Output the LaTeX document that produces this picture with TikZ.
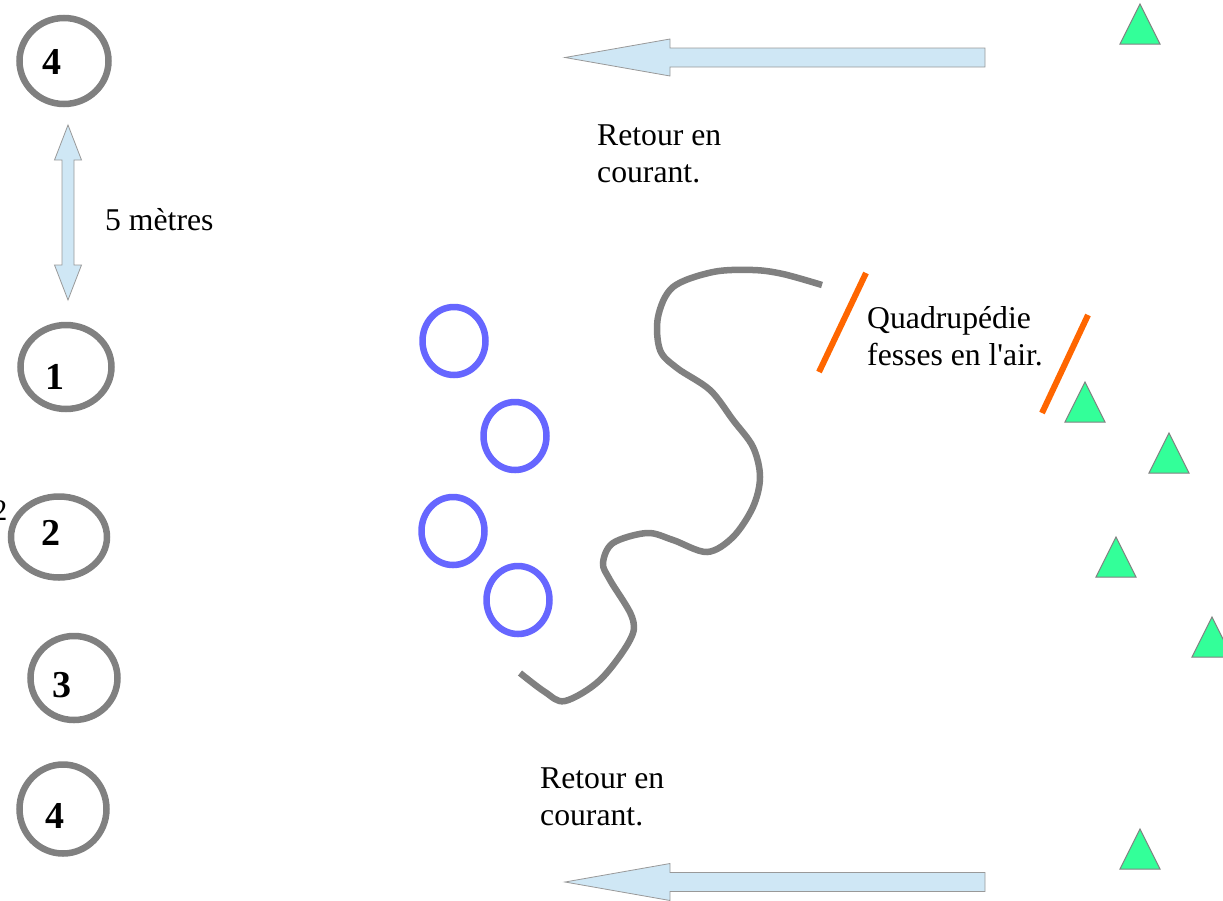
\documentclass[tikz,border=0pt]{standalone}
\usepackage{fontspec}
\setmainfont{Liberation Serif}[Ligatures=TeXOff]
\usetikzlibrary{positioning,shapes.geometric}
\definecolor{ringgray}{HTML}{808080}
\definecolor{hoopblue}{HTML}{6666FF}
\definecolor{conegreen}{HTML}{33FF99}
\definecolor{stickorange}{HTML}{FF6600}
\definecolor{arrowblue}{HTML}{CFE7F5}
\tikzset{
  ring/.style={draw=ringgray, line width=6.5pt, ellipse, inner sep=0pt},
  hoop/.style={draw=hoopblue, line width=6.5pt, ellipse, inner sep=0pt, minimum width=63pt, minimum height=68pt},
  cone/.style={draw=gray, fill=conegreen, line width=1pt},
  bigarrow/.style={draw=gray!80, fill=arrowblue, line width=0.8pt},
  stick/.style={draw=stickorange, line width=6pt},
  numtxt/.style={font=\fontsize{38}{40}\selectfont\bfseries, inner sep=0pt, anchor=base},
  labtxt/.style={font=\fontsize{31.7}{37}\selectfont, align=left, inner sep=0pt},
}
\begin{document}
\begin{tikzpicture} [x=1pt, y=-1pt]

\useasboundingbox (0,0) rectangle (1223,900);

% plots (rings)
\node [ring, minimum width=89pt, minimum height=86pt] (ringA) at (64,61) {};
\node [ring, minimum width=91pt, minimum height=84pt] (ringB) at (66,367) {};
\node [ring, minimum width=96pt, minimum height=81pt] (ringC) at (59,537) {};
\node [ring, minimum width=87pt, minimum height=84pt] (ringD) at (74,678) {};
\node [ring, minimum width=87pt, minimum height=89pt] (ringE) at (63,809) {};

\node [numtxt] (numA) at (52,74) {4};
\node [numtxt] (numB) at (55,389) {1};
\node [numtxt] (numC) at (51,545) {2};
\node [numtxt] (numD) at (62,697) {3};
\node [numtxt] (numE) at (55,828) {4};
\node [font=\fontsize{30}{32}\selectfont, inner sep=0pt, anchor=base] (numCside) at (0,520) {2};

% 5 metres
\draw [bigarrow] (68,125) -- (81.5,160) -- (74,160) -- (74,265) -- (81.5,265) -- (68,300) -- (54.5,265) -- (62,265) -- (62,160) -- (54.5,160) -- cycle;
\node [labtxt, anchor=base west] (gap) at (105,230) {5 mètres};

% hoops
\node [hoop] (hoopA) at (454,341) {};
\node [hoop] (hoopB) at (515,436) {};
\node [hoop] (hoopC) at (453,531) {};
\node [hoop] (hoopD) at (518,600) {};

% rope
\draw [color=ringgray, line width=6.5pt] plot [smooth, tension=0.55] coordinates {(520,673) (545,692) (565,701) (600,680) (630,640) (632,617) (610,580) (603,563) (613,543) (647,533) (673,540) (707,552) (733,537) (753,507) (760,477) (753,447) (733,420) (710,390) (677,368) (660,350) (658,317) (673,287) (713,272) (753,270) (783,274) (822,285)};

% sticks
\draw [stick] (866,273) -- (819,372);
\draw [stick] (1088,315) -- (1042,413);
\node [labtxt, anchor=north west] (quad) at (867,306) {Quadrupédie\\fesses en l'air.};

% cones
\foreach \x/\y in {1140/4, 1085/382, 1169/433, 1116/537, 1212/617, 1140/829}
  \draw [cone] (\x,\y) -- ++(-20,40) -- ++(40,0) -- cycle;

% return arrows
\draw [bigarrow] (565,57.5) -- (670,39) -- (670,48) -- (985,48) -- (985,67) -- (670,67) -- (670,76) -- cycle;
\draw [bigarrow] (565,882) -- (670,863.5) -- (670,872.5) -- (985,872.5) -- (985,891.5) -- (670,891.5) -- (670,900.5) -- cycle;
\node [labtxt, anchor=north west] (backtop) at (597,125) {Retour en\\courant.};
\node [labtxt, anchor=north west] (backbot) at (540,768) {Retour en\\courant.};

%\fill [color=black] (565,57.5) circle (2pt);
%\fill [color=black] (520,673) circle (2pt);
%\fill [color=black] (822,285) circle (2pt);

\end{tikzpicture}
\end{document}
